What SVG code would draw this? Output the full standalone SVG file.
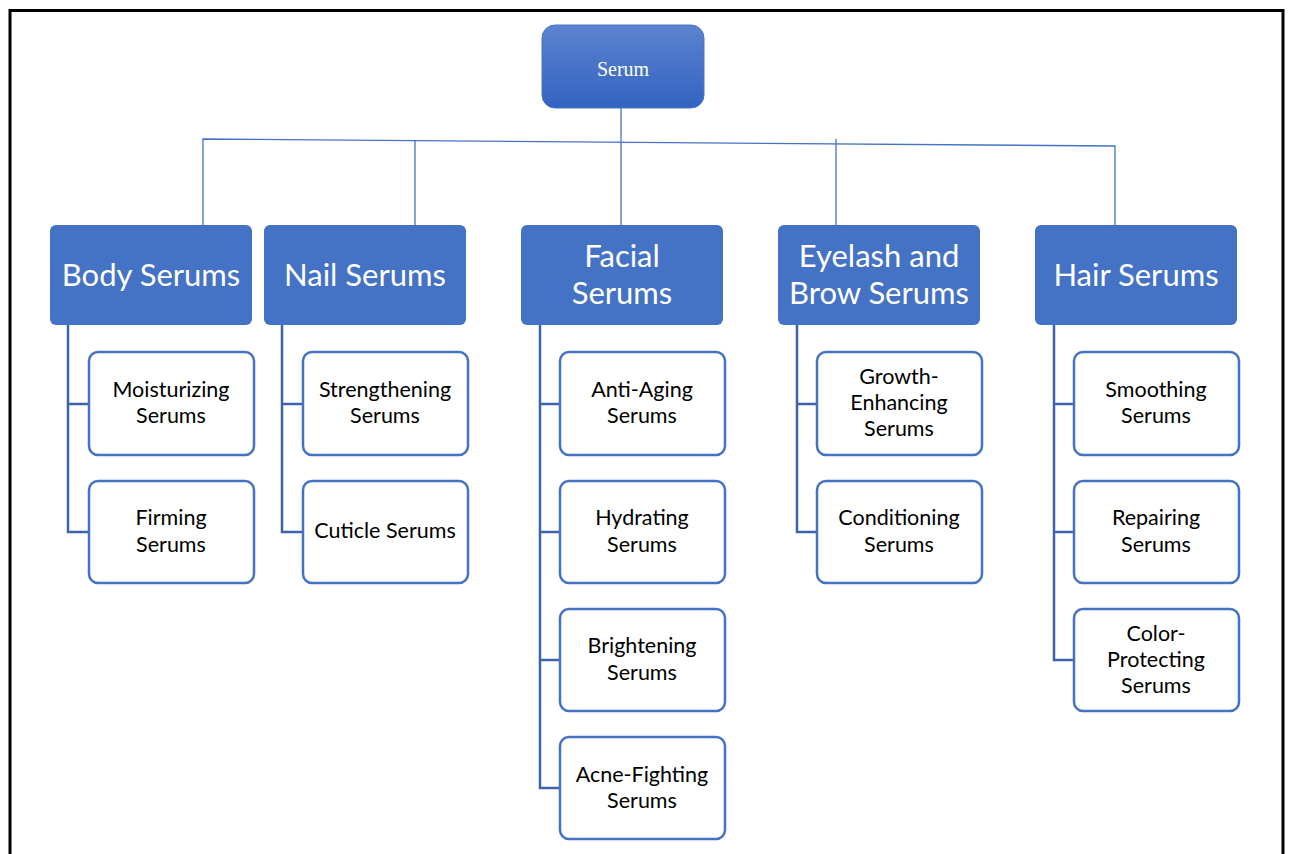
<svg xmlns="http://www.w3.org/2000/svg" width="1289" height="854" viewBox="0 0 1289 854">
<defs>
<linearGradient id="rootGrad" x1="0" y1="0" x2="0" y2="1">
<stop offset="0" stop-color="#5b83cf"/>
<stop offset="1" stop-color="#3363c1"/>
</linearGradient>
<style>
.main rect{fill:#4472c4;}
.main text{font-family:Lato,"Noto Sans",sans-serif;font-size:31px;fill:#ffffff;text-anchor:middle;}
.child rect{fill:#ffffff;stroke:#4472c4;stroke-width:2.5;}
.child text{font-family:Lato,"Noto Sans",sans-serif;font-size:21.5px;fill:#000000;text-anchor:middle;}
.top{fill:none;stroke:#4472c4;stroke-width:1.3;}
.tree{fill:none;stroke:#3f63a8;stroke-width:2.5;}
</style>
</defs>
<rect x="0" y="0" width="1289" height="854" fill="#ffffff"/>
<rect x="10" y="10.5" width="1273" height="860" fill="none" stroke="#000000" stroke-width="3"/>
<g id="connectors">
<path class="top" d="M203 225 V139 L1115 146 V225"/>
<path class="top" d="M415 225 V140.6"/>
<path class="top" d="M621 225 V108"/>
<path class="top" d="M836 225 V139"/>
<path class="tree" d="M68 325 V532 H89 M68 404 H89"/>
<path class="tree" d="M282 325 V532 H303 M282 404 H303"/>
<path class="tree" d="M540 325 V788 H560 M540 404 H560 M540 532 H560 M540 660 H560"/>
<path class="tree" d="M797 325 V532 H817 M797 404 H817"/>
<path class="tree" d="M1054 325 V660 H1074 M1054 404 H1074 M1054 532 H1074"/>
</g>
<g id="root">
<rect x="542" y="25" width="162" height="83" rx="13" fill="url(#rootGrad)" stroke="#4a74c6" stroke-width="1"/>
<text x="623" y="76" font-family="'Liberation Serif',serif" font-size="20" fill="#ffffff" text-anchor="middle">Serum</text>
</g>
<g id="body" class="main"><rect x="50" y="225" width="202" height="100" rx="6"/><text x="151" y="286">Body Serums</text></g>
<g id="nail" class="main"><rect x="264" y="225" width="202" height="100" rx="6"/><text x="365" y="286">Nail Serums</text></g>
<g id="facial" class="main"><rect x="521" y="225" width="202" height="100" rx="6"/><text x="622" y="267">Facial</text><text x="622" y="304">Serums</text></g>
<g id="eyelash" class="main"><rect x="778" y="225" width="202" height="100" rx="6"/><text x="879" y="267">Eyelash and</text><text x="879" y="304">Brow Serums</text></g>
<g id="hair" class="main"><rect x="1035" y="225" width="202" height="100" rx="6"/><text x="1136" y="286">Hair Serums</text></g>
<g id="moisturizing" class="child"><rect x="89" y="352" width="165" height="103" rx="9"/><text x="171" y="397">Moisturizing</text><text x="171" y="423">Serums</text></g>
<g id="firming" class="child"><rect x="89" y="481" width="165" height="102" rx="9"/><text x="171" y="525">Firming</text><text x="171" y="552">Serums</text></g>
<g id="strengthening" class="child"><rect x="303" y="352" width="165" height="103" rx="9"/><text x="385" y="397">Strengthening</text><text x="385" y="423">Serums</text></g>
<g id="cuticle" class="child"><rect x="303" y="481" width="165" height="102" rx="9"/><text x="385" y="538">Cuticle Serums</text></g>
<g id="antiaging" class="child"><rect x="560" y="352" width="165" height="103" rx="9"/><text x="642" y="397">Anti-Aging</text><text x="642" y="423">Serums</text></g>
<g id="hydrating" class="child"><rect x="560" y="481" width="165" height="102" rx="9"/><text x="642" y="525">Hydrating</text><text x="642" y="552">Serums</text></g>
<g id="brightening" class="child"><rect x="560" y="609" width="165" height="102" rx="9"/><text x="642" y="653">Brightening</text><text x="642" y="680">Serums</text></g>
<g id="acne" class="child"><rect x="560" y="737" width="165" height="102" rx="9"/><text x="642" y="782">Acne-Fighting</text><text x="642" y="808">Serums</text></g>
<g id="growth" class="child"><rect x="817" y="352" width="165" height="103" rx="9"/><text x="899" y="384">Growth-</text><text x="899" y="410">Enhancing</text><text x="899" y="436">Serums</text></g>
<g id="conditioning" class="child"><rect x="817" y="481" width="165" height="102" rx="9"/><text x="899" y="525">Conditioning</text><text x="899" y="552">Serums</text></g>
<g id="smoothing" class="child"><rect x="1074" y="352" width="165" height="103" rx="9"/><text x="1156" y="397">Smoothing</text><text x="1156" y="423">Serums</text></g>
<g id="repairing" class="child"><rect x="1074" y="481" width="165" height="102" rx="9"/><text x="1156" y="525">Repairing</text><text x="1156" y="552">Serums</text></g>
<g id="colorprotecting" class="child"><rect x="1074" y="609" width="165" height="102" rx="9"/><text x="1156" y="641">Color-</text><text x="1156" y="667">Protecting</text><text x="1156" y="693">Serums</text></g>
</svg>
